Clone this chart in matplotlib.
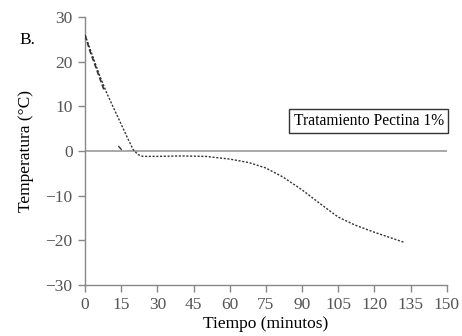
import matplotlib
matplotlib.use("Agg")
import matplotlib.pyplot as plt

plt.rcParams["font.family"] = ["Liberation Serif", "DejaVu Serif"]

# main curve: temperature (C) vs time (min)
tiempo = [0, 3, 6, 9, 12, 15, 18, 20, 22, 24, 30, 40, 50, 60, 68, 75, 82, 90, 98, 105, 112, 120, 126, 132]
temp = [26, 21.5, 17, 13, 9.5, 6, 2.5, 0.3, -0.8, -1.2, -1.2, -1.1, -1.2, -1.8, -2.6, -3.8, -5.8, -8.7, -12, -14.8, -16.6, -18.2, -19.3, -20.4]

# second (partly hidden) trace near the start
tiempo2 = [0, 2, 4, 6, 8]
temp2 = [26, 22.5, 19.5, 16.5, 13.5]
tiempo3 = [14, 15]
temp3 = [1.0, 0.4]

xticks = list(range(0, 151, 15))
yticks = list(range(-30, 31, 10))

gray = "#888888"

fig = plt.figure(figsize=(4.62, 3.36), dpi=100)
ax = fig.add_axes([0.184, 0.152, 0.783, 0.797])

ax.axhline(0, color="#999999", lw=1.2, zorder=1)
ax.plot(tiempo, temp, color="#333333", lw=1.0, ls=(0, (1.5, 1.2)), zorder=3)
ax.plot(tiempo2, temp2, color="#333333", lw=1.2, ls=(0, (3, 1.5)), zorder=3)
ax.plot(tiempo3, temp3, color="#333333", lw=1.0, zorder=3)

ax.set_xlim(0, 150)
ax.set_ylim(-30, 30)
ax.set_xticks(xticks)
ax.set_yticks(yticks)
ax.set_yticklabels([str(v).replace("-", "\u2212") for v in yticks])

for s in ["top", "right"]:
    ax.spines[s].set_visible(False)
for s in ["left", "bottom"]:
    ax.spines[s].set_color(gray)
    ax.spines[s].set_linewidth(1.0)
ax.tick_params(direction="out", length=5, width=1, color=gray, labelsize=12.5,
               labelcolor="#555555", pad=4)

ax.set_xlabel("Tiempo (minutos)", fontsize=12.5, labelpad=2)
ax.set_ylabel("Temperatura (\u00b0C)", fontsize=12.5, labelpad=8)

fig.text(0.043, 0.868, "B.", fontsize=12.5)

ax.text(0.577, 0.612, "Tratamiento Pectina 1%", transform=ax.transAxes, fontsize=11.2,
        va="center", ha="left",
        bbox=dict(boxstyle="square,pad=0.28", fc="white", ec="#333333", lw=1.0))

fig.savefig("out.png", dpi=100)
